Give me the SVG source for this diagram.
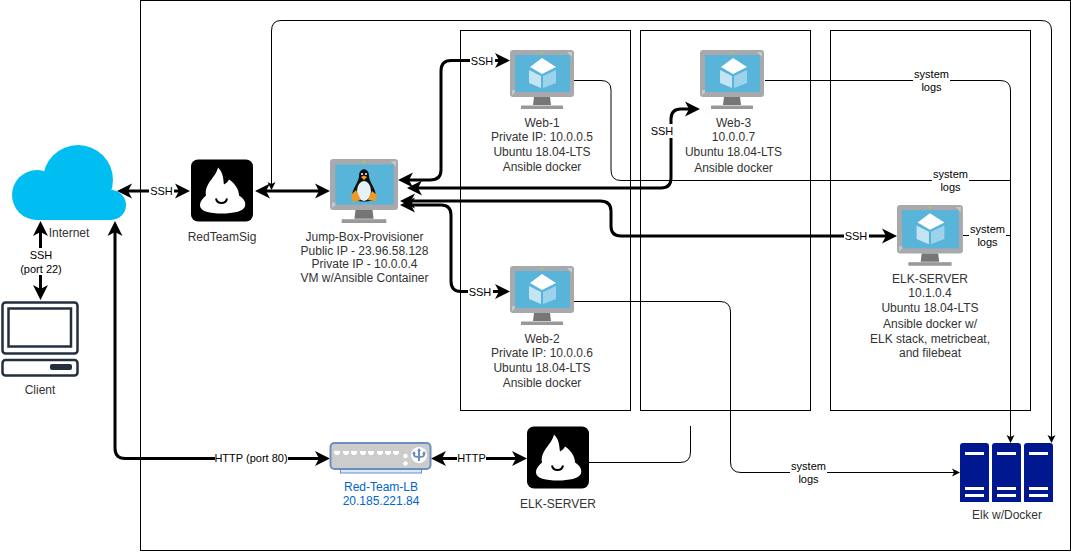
<svg xmlns="http://www.w3.org/2000/svg" width="1071" height="552" viewBox="0 0 1071 552">
<style>
text{font-family:"Liberation Sans",Arial,sans-serif;font-size:12px;fill:#333;text-anchor:middle}
.e{font-size:11px;fill:#000}
.b{fill:none;stroke:#000;stroke-width:1}
.t{fill:none;stroke:#000;stroke-width:3;marker-end:url(#h);marker-start:url(#h)}
.n{fill:none;stroke:#000;stroke-width:1}
.a{marker-end:url(#s)}
.w{fill:#fff}
.l{fill:#0066cc}
.c{fill:#00bef2}
</style>
<defs>
<marker id="h" markerUnits="userSpaceOnUse" markerWidth="16" markerHeight="16" refX="7" refY="8" orient="auto-start-reverse"><path d="M0,0.500 L15,8 L0,15.500 L4,8 Z" fill="#000"/></marker>
<marker id="s" markerUnits="userSpaceOnUse" markerWidth="9" markerHeight="10" refX="4" refY="5" orient="auto"><path d="M0,1 L8,5 L0,9 L2,5 Z" fill="#000"/></marker>
<g id="mon">
<rect x="0" y="0" width="64" height="47" rx="3" fill="#a7a9ac"/>
<path d="M57,2 H62 V7 Z M2,45 L8,40 H2 Z" fill="#c8c9cb"/>
<path d="M24,47 H40 L41,55 H23 Z" fill="#767676"/>
<rect x="11" y="55.500" width="42" height="3.500" fill="#999"/>
<rect x="5" y="5" width="55" height="37" fill="#59b4d9"/>
<circle cx="32" cy="2.500" r="1" fill="#b8d432"/>
</g>
<g id="cube">
<path d="M32,8 L46,17 L32,24 L20,17 Z" fill="#fff"/>
<path d="M19,20 L31,26 V38 L19,33 Z" fill="#c3e4f3"/>
<path d="M33,26 L46,20 V33 L33,38 Z" fill="#9cd3ea"/>
</g>
<g id="flame">
<rect x="0" y="0" width="62" height="62" rx="7" fill="#000"/>
<path d="M27,8 C33,14 32,20 33,25 C35,24 37,22 38,20 C44,24 48,30 48,36 C53,39 55,43 54,47 C52,52 42,54 31,54 C19,54 9,52 9,46 C9,41 13,38 15,36 C13,24 25,18 27,8 Z" fill="#fff"/>
<path d="M25,39 C26,45 35,45 36,39" fill="none" stroke="#000" stroke-width="2"/>
</g>
</defs>
<rect width="1071" height="552" fill="#fff"/>
<g id="boundaries">
<rect class="b" x="140.500" y="0.500" width="930" height="550"/>
<rect class="b" x="460.500" y="30.500" width="170" height="380"/>
<rect class="b" x="640.500" y="30.500" width="170" height="380"/>
<rect class="b" x="830.500" y="30.500" width="200" height="380"/>
</g>
<g id="elk-docker">
<path d="M960,502 V446 Q960,443 963,443 H986 Q989,443 989,446 V502 Z M992,502 V446 Q992,443 995,443 H1018 Q1021,443 1021,446 V502 Z M1024,502 V446 Q1024,443 1027,443 H1050 Q1053,443 1053,446 V502 Z" fill="#00188f"/>
<path d="M965,452 h19 v3 h-19 Z M965,487 h19 v3 h-19 Z M965,494 h19 v3 h-19 Z M997,452 h19 v3 h-19 Z M997,487 h19 v3 h-19 Z M997,494 h19 v3 h-19 Z M1029,452 h19 v3 h-19 Z M1029,487 h19 v3 h-19 Z M1029,494 h19 v3 h-19 Z" fill="#fff"/>
<text x="1007" y="519">Elk w/Docker</text>
</g>
<g id="connectors">
<path class="n" d="M574,80.500 H601 Q611,80.500 611,90 V170 Q611,180.500 621,180.500 H1010.500"/>
<path class="n a" d="M765,80.500 H1000 Q1010.500,80.500 1010.500,90 V439"/>
<path class="n" d="M963,235.500 H1010.500"/>
<path class="n a" d="M574,301.500 H720 Q730.500,301.500 730.500,312 V462 Q730.500,472.500 741,472.500 H956"/>
<path class="n" d="M589,462.500 H680 Q690.500,462.500 690.500,452 V426"/>
<path class="n a" d="M271.500,186 V31 Q271.500,20.500 281,20.500 H1041 Q1051.500,20.500 1051.500,30 V439"/>
<path class="n a" d="M271.500,100 V186"/>
<path class="t" d="M125,191 H182"/>
<path class="t" d="M263,191 H322"/>
<path class="t" d="M40.500,229 V292"/>
<path class="t" d="M115,229 V448 Q115,458.500 125,458.500 H322"/>
<path class="t" d="M439,458.500 H519"/>
<path class="t" d="M406,180 H430 Q441,180 441,170 V71 Q441,60.500 451,60.500 H502"/>
<path class="t" d="M415,188 H661 Q671,188 671,178 V119 Q671,109 681,109 H692"/>
<path class="t" d="M408,201 H600 Q611,201 611,211 V226 Q611,236 621,236 H889"/>
<path class="t" d="M408,205 H441 Q451,205 451,215 V281 Q451,291.500 461,291.500 H502"/>
</g>
<g id="connector-labels">
<rect class="w" x="149" y="184" width="25" height="14"/><text class="e" x="161.500" y="195">SSH</text>
<rect class="w" x="24" y="248" width="34" height="27"/><text class="e" x="41" y="259">SSH</text><text class="e" x="41" y="273">(port 22)</text>
<rect class="w" x="470" y="54" width="25" height="14"/><text class="e" x="482" y="65">SSH</text>
<rect class="w" x="468" y="285" width="25" height="14"/><text class="e" x="480" y="296">SSH</text>
<rect class="w" x="650" y="124" width="25" height="14"/><text class="e" x="662" y="135">SSH</text>
<rect class="w" x="844" y="229" width="25" height="14"/><text class="e" x="856" y="240">SSH</text>
<rect class="w" x="215" y="451" width="73" height="14"/><text class="e" x="251" y="462">HTTP (port 80)</text>
<rect class="w" x="457" y="451" width="29" height="14"/><text class="e" x="471.500" y="462">HTTP</text>
<rect class="w" x="913" y="68" width="37" height="26"/><text class="e" x="931.500" y="78">system</text><text class="e" x="931.500" y="91">logs</text>
<rect class="w" x="932" y="168" width="37" height="26"/><text class="e" x="950.500" y="178">system</text><text class="e" x="950.500" y="191">logs</text>
<rect class="w" x="969" y="223" width="37" height="26"/><text class="e" x="987.500" y="233">system</text><text class="e" x="987.500" y="246">logs</text>
<rect class="w" x="790" y="460" width="37" height="26"/><text class="e" x="808.500" y="470">system</text><text class="e" x="808.500" y="483">logs</text>
</g>
<g id="internet">
<circle class="c" cx="37" cy="195" r="25"/>
<circle class="c" cx="78" cy="180" r="35"/>
<circle class="c" cx="111" cy="205" r="15"/>
<rect class="c" x="37" y="195" width="74" height="25"/>
<text x="69" y="237">Internet</text>
</g>
<g id="client">
<rect x="2.500" y="302.500" width="75" height="51" rx="3" fill="none" stroke="#232f3e" stroke-width="2.500"/>
<rect x="8.500" y="308.500" width="62.500" height="38" fill="none" stroke="#232f3e" stroke-width="2.500"/>
<rect x="2.500" y="360" width="75" height="15.500" rx="3" fill="none" stroke="#232f3e" stroke-width="2.500"/>
<rect x="50" y="364" width="22" height="6" rx="2" fill="#232f3e"/>
<text x="40" y="394">Client</text>
</g>
<g id="redteamsig">
<use href="#flame" transform="translate(191,159.500)"/>
<text x="222" y="241">RedTeamSig</text>
</g>
<g id="jump-box">
<use href="#mon" transform="translate(330,159) scale(1.0625,1.085)"/>
<path d="M359,176 C359,167 369,167 369,176 C369,182 376,188 376,197 C376,203 352,203 352,197 C352,188 359,182 359,176 Z" fill="#111"/>
<ellipse cx="364" cy="191" rx="7" ry="10" fill="#e6f1f5"/>
<path d="M361,177 L364,175.500 L367,177 L364,180 Z" fill="#f0a030"/>
<circle cx="362" cy="174" r="1" fill="#fff"/><circle cx="366" cy="174" r="1" fill="#fff"/>
<path d="M351,195 L356,190 L361,200 L353,202 Z M377,195 L372,191 L368,200 L376,201 Z" fill="#ef9a25"/>
<text x="364.500" y="241">Jump-Box-Provisioner</text>
<text x="364.500" y="255">Public IP - 23.96.58.128</text>
<text x="364.500" y="268">Private IP - 10.0.0.4</text>
<text x="364.500" y="282">VM w/Ansible Container</text>
</g>
<g id="web-1">
<use href="#mon" transform="translate(510,50)"/><use href="#cube" transform="translate(510,50)"/>
<text x="542" y="127">Web-1</text><text x="542" y="141">Private IP: 10.0.0.5</text><text x="542" y="156">Ubuntu 18.04-LTS</text><text x="542" y="171">Ansible docker</text>
</g>
<g id="web-2">
<use href="#mon" transform="translate(510,266)"/><use href="#cube" transform="translate(510,266)"/>
<text x="542" y="343">Web-2</text><text x="542" y="357">Private IP: 10.0.0.6</text><text x="542" y="372">Ubuntu 18.04-LTS</text><text x="542" y="387">Ansible docker</text>
</g>
<g id="web-3">
<use href="#mon" transform="translate(700,50)"/><use href="#cube" transform="translate(701,50)"/>
<text x="733.500" y="127">Web-3</text><text x="733.500" y="141">10.0.0.7</text><text x="733.500" y="156">Ubuntu 18.04-LTS</text><text x="733.500" y="172">Ansible docker</text>
</g>
<g id="elk-vm">
<use href="#mon" transform="translate(897,205) scale(1.03,1.03)"/><use href="#cube" transform="translate(897,205) scale(1.03,1.03)"/>
<text x="930" y="283">ELK-SERVER</text><text x="930" y="297">10.1.0.4</text><text x="930" y="312">Ubuntu 18.04-LTS</text><text x="930" y="328">Ansible docker w/</text><text x="930" y="343">ELK stack, metricbeat,</text><text x="930" y="357">and filebeat</text>
</g>
<g id="load-balancer">
<rect x="340.500" y="466" width="81" height="7" fill="#dae8fc" stroke="#6c8ebf"/>
<rect x="330.500" y="443" width="100" height="26" rx="4" fill="#cccccc" stroke="#6c8ebf" stroke-width="2"/>
<g class="w">
<path d="M334,451 h6 v2 l-1.500,2 h-3 l-1.500,-2 Z M343,451 h6 v2 l-1.500,2 h-3 l-1.500,-2 Z M351,451 h6 v2 l-1.500,2 h-3 l-1.500,-2 Z M360,451 h6 v2 l-1.500,2 h-3 l-1.500,-2 Z M368,451 h6 v2 l-1.500,2 h-3 l-1.500,-2 Z M377,451 h6 v2 l-1.500,2 h-3 l-1.500,-2 Z M385,451 h6 v2 l-1.500,2 h-3 l-1.500,-2 Z M393,451 h6 v2 l-1.500,2 h-3 l-1.500,-2 Z"/>
<circle cx="405.500" cy="456" r="2.200"/><circle cx="405.500" cy="463.500" r="2.200"/>
<circle cx="419" cy="455" r="8"/>
</g>
<path d="M419,449 V461 M414,453 V455 Q414,457 419,457 Q424,457 424,455 V453" fill="none" stroke="#6c8ebf" stroke-width="2"/>
<path d="M419,448 l-2,3 h4 Z M414,451 l-2,3 h4 Z M424,451 l-2,3 h4 Z" fill="#6c8ebf"/>
<text class="l" x="381" y="491">Red-Team-LB</text><text class="l" x="381" y="505">20.185.221.84</text>
</g>
<g id="elk-server">
<use href="#flame" transform="translate(527,426.500)"/>
<text x="558" y="508">ELK-SERVER</text>
</g>
</svg>
